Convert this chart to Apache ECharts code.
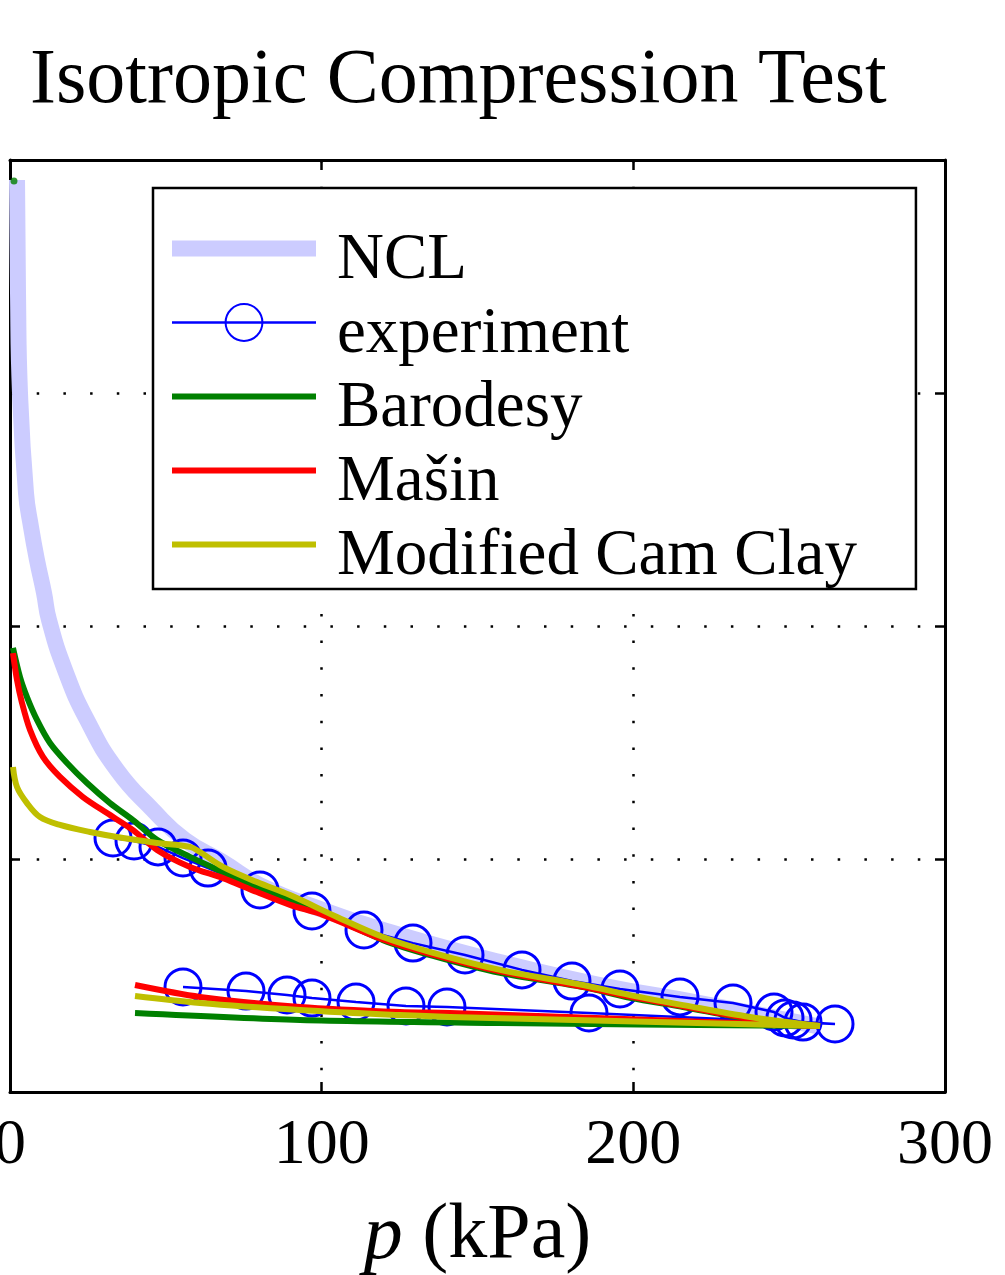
<!DOCTYPE html>
<html>
<head>
<meta charset="utf-8">
<script src="https://cdn.jsdelivr.net/npm/echarts@6/dist/echarts.min.js"></script>
<style>
  html, body { margin: 0; padding: 0; background: #fff; }
  #chart { width: 1005px; height: 1275px; }
</style>
</head>
<body>
<div id="chart"></div>
<script>
// x ticks (kPa) and y ticks (no labels shown in the picture)
var xTicks = [0, 100, 200, 300];
var yTicks = [0, 1, 2, 3, 4];

// [p (kPa), y]
var ncl = [[2.25,3.914],[2.57,3.429],[3.21,3.000],[5.13,2.571],[6.74,2.425],[8.66,2.283],[10.91,2.142],
  [12.51,2.026],[17.65,1.811],[24.71,1.597],[34.33,1.382],[45.88,1.210],[56.15,1.082],[68.34,0.987],
  [80.21,0.888],[100.43,0.781],[125.1,0.674],[157.2,0.558],[189.3,0.459],[221.4,0.382],[258.9,0.283]];

var expLoad = [[33.05,1.090],[39.79,1.077],[47.49,1.052],[55.51,1.004],[63.53,0.961],[80.21,0.867],
  [96.90,0.777],[113.58,0.695],[129.30,0.639],[145.99,0.588],[164.28,0.524],[180.32,0.476],[195.72,0.442],
  [214.97,0.408],[231.98,0.382],[245.13,0.343],[248.66,0.318],[251.23,0.309],[254.44,0.300],[264.71,0.292]];
var expUnload = [[185.77,0.339],[140.21,0.365],[127.06,0.369],[111.02,0.386],[96.90,0.403],[88.88,0.416],
  [75.72,0.433],[55.51,0.451]];

var barodesy = [[0.96,1.906],[3.21,1.781],[5.45,1.695],[8.66,1.597],[12.83,1.498],[18.29,1.412],[24.71,1.326],
  [32.09,1.240],[39.47,1.167],[47.17,1.082],[57.75,1.009],[68.34,0.944],[79.25,0.880],[89.84,0.824],
  [100.43,0.768],[119.68,0.652],[135.72,0.584],[157.22,0.511],[183.85,0.450],[198.93,0.404],[215.94,0.365],
  [237.43,0.313],[259.89,0.283],[157.22,0.296],[93.05,0.309],[40.11,0.339]];
var barodesyDot = [[1.28,3.910]];

var masin = [[0.96,1.884],[2.25,1.768],[3.85,1.670],[6.42,1.554],[10.59,1.438],[16.04,1.352],[23.42,1.266],
  [31.12,1.197],[39.47,1.124],[47.17,1.039],[57.75,0.966],[68.34,0.918],[79.25,0.858],[89.84,0.803],
  [100.43,0.760],[119.68,0.655],[135.72,0.590],[157.22,0.518],[183.85,0.452],[198.93,0.410],[215.94,0.368],
  [237.43,0.316],[259.89,0.283],[141.18,0.339],[125.13,0.343],[93.05,0.365],[60.96,0.408],[40.11,0.459]];

var mcc = [[0.96,1.395],[2.25,1.309],[5.45,1.240],[9.63,1.180],[16.04,1.146],[25.67,1.116],[36.26,1.090],
  [47.17,1.069],[57.75,1.052],[60.96,1.030],[68.34,0.966],[79.25,0.901],[89.84,0.845],[104.92,0.751],
  [119.68,0.665],[135.72,0.597],[157.22,0.524],[183.85,0.459],[198.93,0.416],[215.94,0.373],[237.43,0.322],
  [259.89,0.283],[141.18,0.322],[125.13,0.330],[93.05,0.352],[60.96,0.382],[40.11,0.412]];

var FONT = 'Liberation Serif';
var NOFILL = 'rgba(0,0,0,0)';
var chart = echarts.init(document.getElementById('chart'));

var dotted = { color: '#000', width: 2.5, type: [2.5, 24.2] };
var frameLine = { show: true, onZero: false, lineStyle: { color: '#000', width: 3 } };
var tick = { show: true, inside: true, length: 10, lineStyle: { color: '#000', width: 2.5 } };

chart.setOption({
  backgroundColor: '#fff',
  animation: false,
  title: {
    text: 'Isotropic Compression Test',
    left: 30,
    top: 43,
    padding: 0,
    textStyle: { fontFamily: FONT, fontSize: 78, lineHeight: 78, fontWeight: 'normal', color: '#000' }
  },
  grid: { left: 10, right: 60, top: 160, bottom: 183, containLabel: false, outerBoundsMode: 'none' },
  legend: {
    orient: 'vertical',
    left: 153,
    top: 188,
    itemWidth: 144,
    itemHeight: 46,
    itemGap: 9,
    padding: [40, 59, 0, 11],
    borderColor: '#000',
    borderWidth: 2.5,
    backgroundColor: '#fff',
    lineStyle: { width: 'inherit' },
    formatter: '{t|{name}}',
    textStyle: {
      fontFamily: FONT, fontSize: 65, color: '#000', padding: [0, 0, 0, 16],
      rich: { t: { fontFamily: FONT, fontSize: 65, color: '#000', padding: [24, 0, 0, 0] } }
    },
    data: ['NCL', 'experiment', 'Barodesy', 'Mašin', 'Modified Cam Clay']
  },
  xAxis: [{
    type: 'value', min: xTicks[0], max: xTicks[xTicks.length - 1], interval: 100,
    position: 'bottom',
    axisLine: frameLine, axisTick: tick,
    axisLabel: { fontFamily: FONT, fontSize: 64, color: '#000', margin: 22 },
    splitLine: { show: true, lineStyle: dotted },
    name: '{i|p} (kPa)',
    nameLocation: 'middle',
    nameGap: 106,
    nameTextStyle: {
      fontFamily: FONT, fontSize: 78, color: '#000',
      rich: { i: { fontFamily: FONT, fontSize: 78, fontStyle: 'italic', color: '#000' } }
    }
  }, {
    type: 'value', min: xTicks[0], max: xTicks[xTicks.length - 1], interval: 100,
    position: 'top',
    axisLine: frameLine, axisTick: tick,
    axisLabel: { show: false }, splitLine: { show: false }
  }],
  yAxis: [{
    type: 'value', min: yTicks[0], max: yTicks[yTicks.length - 1], interval: 1,
    position: 'left',
    axisLine: frameLine, axisTick: tick,
    axisLabel: { show: false },
    splitLine: { show: true, lineStyle: dotted }
  }, {
    type: 'value', min: yTicks[0], max: yTicks[yTicks.length - 1], interval: 1,
    position: 'right',
    axisLine: frameLine, axisTick: tick,
    axisLabel: { show: false }, splitLine: { show: false }
  }],
  series: [{
    name: 'NCL', type: 'line', data: ncl, smooth: 0.5, z: 1,
    symbol: 'none', lineStyle: { color: '#ccccff', width: 16 }, itemStyle: { color: NOFILL }
  }, {
    name: 'experiment', type: 'line', data: expLoad.concat(expUnload), z: 2,
    symbol: 'circle', symbolSize: 36, showSymbol: true,
    lineStyle: { color: '#0000ff', width: 2.5 },
    itemStyle: { color: NOFILL, borderColor: '#0000ff', borderWidth: 3 }
  }, {
    name: 'Barodesy', type: 'line', data: barodesy, smooth: 0.3, z: 3,
    symbol: 'none', lineStyle: { color: '#008000', width: 6 }, itemStyle: { color: NOFILL }
  }, {
    name: 'Barodesy', type: 'scatter', data: barodesyDot, z: 3,
    symbol: 'circle', symbolSize: 7, itemStyle: { color: '#008000' }
  }, {
    name: 'Mašin', type: 'line', data: masin, smooth: 0.3, z: 3,
    symbol: 'none', lineStyle: { color: '#ff0000', width: 6 }, itemStyle: { color: NOFILL }
  }, {
    name: 'Modified Cam Clay', type: 'line', data: mcc, smooth: 0.35, z: 3,
    symbol: 'none', lineStyle: { color: '#bfbf00', width: 6 }, itemStyle: { color: NOFILL }
  }]
});
</script>
</body>
</html>
